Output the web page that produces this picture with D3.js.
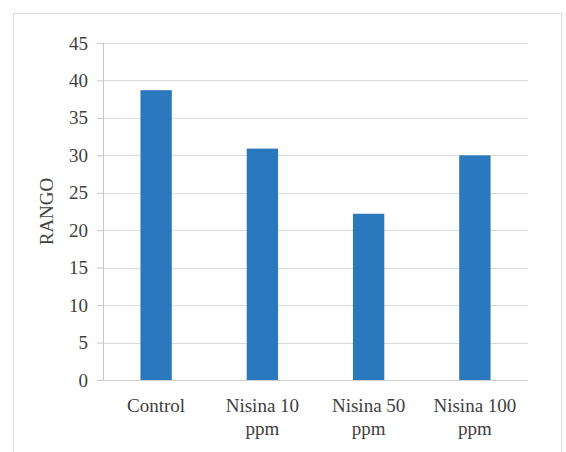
<!DOCTYPE html>
<html>
<head>
<meta charset="utf-8">
<script src="https://cdn.jsdelivr.net/npm/d3@7/dist/d3.min.js"></script>
<style>
  html, body { margin: 0; padding: 0; background: #ffffff; }
  svg { display: block; }
  svg text { font-family: "Liberation Serif", "Times New Roman", Times, "DejaVu Serif", serif; }
</style>
</head>
<body>
<svg id="chart" width="566" height="452"></svg>
<script>
// Treatment groups and their measured range values
const categories = ["Control", "Nisina 10 ppm", "Nisina 50 ppm", "Nisina 100 ppm"];
const values = [38.7, 30.9, 22.2, 30.0];
const yTicks = [0, 5, 10, 15, 20, 25, 30, 35, 40, 45];
const yTitle = "RANGO";

const svg = d3.select("#chart");
const W = 566, H = 452;
const margin = { top: 43, right: 38, bottom: 72, left: 103 };
const innerW = W - margin.left - margin.right;
const innerH = H - margin.top - margin.bottom;

const textColor = "#404040";

// Outer chart-area frame
svg.append("rect")
  .attr("x", 13.5).attr("y", 13.5)
  .attr("width", 548).attr("height", 460)
  .attr("fill", "#ffffff")
  .attr("stroke", "#dcdcdc")
  .attr("stroke-width", 1);

const g = svg.append("g").attr("transform", `translate(${margin.left},${margin.top})`);

const x = d3.scaleBand().domain(categories).range([0, innerW]).paddingInner(0.705).paddingOuter(0.3525);
const y = d3.scaleLinear().domain([0, 45]).range([innerH, 0]);

// Horizontal gridlines
g.append("g")
  .selectAll("line")
  .data(yTicks.filter(t => t > 0))
  .join("line")
  .attr("x1", 0).attr("x2", innerW)
  .attr("y1", d => Math.round(y(d)) + 0.5)
  .attr("y2", d => Math.round(y(d)) + 0.5)
  .attr("stroke", "#d9d9d9")
  .attr("stroke-width", 1);

// Bars
g.append("g")
  .selectAll("rect")
  .data(values)
  .join("rect")
  .attr("x", (d, i) => x(categories[i]))
  .attr("y", d => y(d))
  .attr("width", x.bandwidth())
  .attr("height", d => innerH - y(d))
  .attr("fill", "#2a78bd");

// Value axis
const yAxis = g.append("g")
  .call(d3.axisLeft(y).tickValues(yTicks).tickSize(6).tickPadding(9).tickFormat(d3.format("d")));
yAxis.attr("font-family", null);
yAxis.select(".domain").attr("stroke", "#c8c8c8").attr("d", `M0.5,0V${innerH}`);
yAxis.selectAll(".tick line").attr("stroke", "#c8c8c8");
yAxis.selectAll(".tick text")
  .attr("font-size", 19)
  .attr("fill", textColor);

// Category axis
const xAxis = g.append("g")
  .attr("transform", `translate(0,${innerH})`)
  .call(d3.axisBottom(x).tickSize(0).tickPadding(0));
xAxis.attr("font-family", null);
xAxis.select(".domain").attr("stroke", "#d0d0d0").attr("d", `M0,0.5H${innerW}`);
xAxis.selectAll(".tick text").remove();
xAxis.selectAll(".tick").each(function(d) {
  const words = d.split(" ");
  const lines = words.length > 2 ? [words.slice(0, 2).join(" "), words.slice(2).join(" ")] : [d];
  const t = d3.select(this).append("text")
    .attr("font-size", 19)
    .attr("fill", textColor)
    .attr("text-anchor", "middle");
  lines.forEach((ln, k) => {
    t.append("tspan").attr("x", 0).attr("y", 32 + k * 23).text(ln);
  });
});

// Axis title
svg.append("text")
  .attr("transform", `translate(53,${margin.top + innerH / 2}) rotate(-90)`)
  .attr("text-anchor", "middle")
  .attr("font-size", 19)
  .attr("fill", textColor)
  .text(yTitle);
</script>
</body>
</html>
